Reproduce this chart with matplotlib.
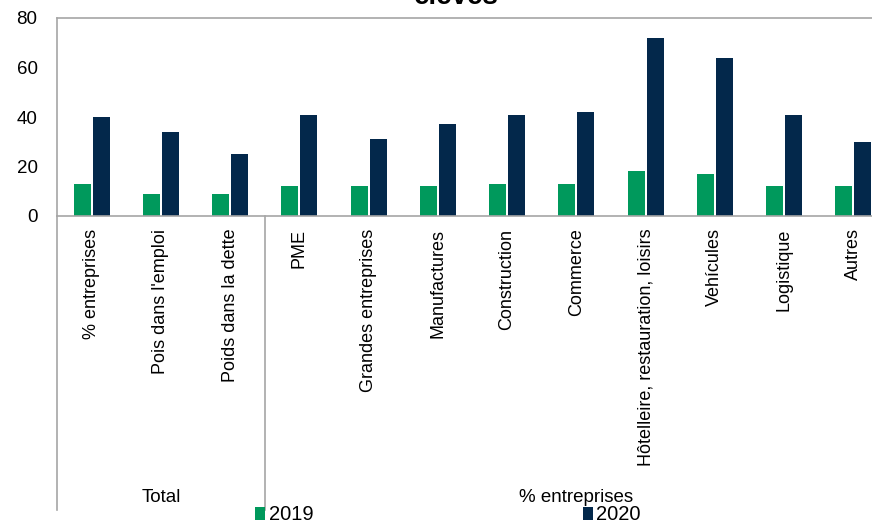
import matplotlib
matplotlib.use("Agg")
import matplotlib.pyplot as plt
import numpy as np

# donnees
categories = ["% entreprises", "Pois dans l'emploi", "Poids dans la dette",
              "PME", "Grandes entreprises", "Manufactures", "Construction",
              "Commerce", "Hôtelleire, restauration, loisirs", "Vehícules",
              "Logistique", "Autres"]
val_2019 = [13, 9, 9, 12, 12, 12, 13, 13, 18, 17, 12, 12]
val_2020 = [40, 34, 25, 41, 31, 37, 41, 42, 72, 64, 41, 30]
groupes = ["Total", "% entreprises"]
taille_groupes = [3, 9]

plt.rcParams['font.family'] = ['Liberation Sans', 'DejaVu Sans']

vert = '#00995C'
marine = '#03284B'
gris = '#A6A6A6'

W, H = 872, 525
fig = plt.figure(figsize=(W / 100, H / 100), dpi=100)
# l'axe depasse a droite comme dans l'image d'origine (coupee)
ax = fig.add_axes([57 / W, (H - 216) / H, 831 / W, (216 - 18) / H])

x = np.arange(len(categories))
b1 = ax.bar(x - 0.137, val_2019, width=0.245, color=vert, label='2019')
b2 = ax.bar(x + 0.137, val_2020, width=0.245, color=marine, label='2020')

ax.set_xlim(-0.5, len(categories) - 0.5)
ax.set_ylim(0, 80)
ax.set_yticks(range(0, 81, 20))
ax.tick_params(axis='y', length=0, pad=14, labelsize=13.5)
ax.set_xticks(x)
ax.set_xticklabels(categories, rotation=90, fontsize=13, va='top')
ax.tick_params(axis='x', length=0, pad=9)
for s in ax.spines.values():
    s.set_color(gris)
    s.set_linewidth(1.2)

# separateurs de groupes et libelles
bas = -(510 - 216) / (216 - 18) * 80
debut = 0
bords = [-0.5]
for nom, n in zip(groupes, taille_groupes):
    centre = debut + (n - 1) / 2
    ax.text(centre, -(497 - 216) / (216 - 18) * 80, nom, ha='center', va='center',
            fontsize=13.5, clip_on=False)
    debut += n
    bords.append(debut - 0.5)
for b in bords:
    ax.plot([b, b], [0, bas], color=gris, lw=1.2, clip_on=False)

# titre coupe en haut comme dans l'original
fig.text(456 / W, 1 - 4 / H, 'élevés', ha='center', va='baseline',
         fontsize=20, weight='bold')

fig.legend(handles=[b1, b2], loc='center', bbox_to_anchor=(448 / W, 1 - 515 / H),
           ncol=2, frameon=False, fontsize=14.5, handlelength=0.5, handleheight=0.6,
           handletextpad=0.15, columnspacing=13.4, borderpad=0)

plt.savefig('out.png', dpi=100)
